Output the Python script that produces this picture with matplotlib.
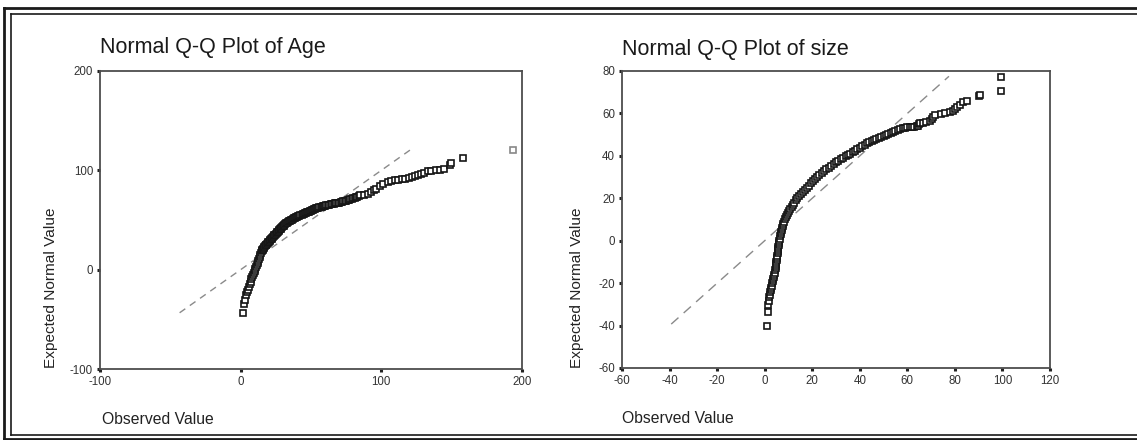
import matplotlib
matplotlib.use("Agg")
import matplotlib.pyplot as plt
from matplotlib.lines import Line2D

W, H = 1137, 440

# ---------------- data: Normal Q-Q plot of Age (observed, expected normal) ----------------
age_low_tail = [(1.5, -44.0), (2.7, -35.0), (3.2, -30.5), (3.9, -26.0), (4.6, -22.5),
                (5.2, -20.0), (5.8, -17.0), (6.3, -14.5), (7.0, -12.0), (7.6, -9.5),
                (8.2, -7.5), (8.8, -5.5), (9.4, -3.5), (9.9, -1.5), (10.5, 0.5),
                (11.0, 2.5), (11.5, 4.5), (12.0, 6.5), (12.5, 8.5), (13.0, 10.5),
                (13.5, 12.5), (14.0, 14.5), (14.5, 16.5)]
age_body = [(15.0, 18.5), (15.3, 19.4), (15.6, 20.3), (16.0, 21.2), (16.4, 22.0),
            (16.9, 22.8), (17.3, 23.6), (17.8, 24.4), (18.2, 25.2), (18.7, 26.0),
            (19.1, 26.8), (19.6, 27.5), (20.0, 28.2), (20.5, 28.9), (21.0, 29.6),
            (21.5, 30.4), (22.0, 31.2), (22.5, 32.0), (23.0, 32.8), (23.5, 33.6),
            (24.0, 34.4), (24.5, 35.2), (25.0, 36.0), (25.5, 36.8), (26.0, 37.6),
            (26.5, 38.3), (27.0, 39.0), (27.5, 39.8), (28.0, 40.5), (28.5, 41.3),
            (29.0, 42.0), (29.5, 42.8), (30.0, 43.5), (30.5, 44.3), (31.0, 45.0),
            (31.6, 45.8), (32.2, 46.5), (32.8, 47.2), (33.5, 47.8), (34.2, 48.6),
            (35.0, 49.3), (35.8, 49.9), (36.5, 50.5), (37.3, 51.0), (38.0, 51.6),
            (38.8, 52.1), (39.5, 52.6), (40.3, 53.1), (41.0, 53.6), (41.8, 54.1),
            (42.5, 54.6), (43.3, 55.1), (44.0, 55.6), (44.8, 56.1), (45.5, 56.6),
            (46.3, 57.1), (47.0, 57.6), (47.8, 58.0), (48.5, 58.5), (49.3, 59.0),
            (50.0, 59.4), (50.8, 59.8), (51.5, 60.3), (52.3, 60.8), (53.0, 61.2),
            (53.8, 61.6), (54.5, 62.0), (55.3, 62.4), (56.0, 62.8), (56.8, 63.2),
            (57.5, 63.5), (58.3, 63.8), (59.0, 64.2), (60.0, 64.5), (61.0, 64.8),
            (62.0, 65.2), (63.0, 65.5), (64.0, 65.8), (65.0, 66.1), (66.0, 66.4),
            (67.0, 66.7), (68.0, 67.0), (69.0, 67.3), (70.0, 67.6), (71.0, 68.0),
            (72.0, 68.3), (73.0, 68.7), (74.0, 69.1), (75.0, 69.5), (76.0, 69.9),
            (77.0, 70.3), (78.0, 70.8), (79.0, 71.3), (80.0, 71.8), (81.0, 72.4),
            (82.0, 73.0), (83.0, 73.6), (84.0, 74.2), (84.8, 74.8)]
age_high_tail = [(87.5, 75.6), (90.4, 76.5), (92.5, 78.0), (94.5, 80.0), (96.3, 81.6),
                 (99.0, 84.0), (101.5, 86.5), (104.6, 88.2), (107.0, 89.0), (109.4, 89.9),
                 (112.0, 90.6), (114.5, 91.2), (116.5, 91.6), (119.5, 92.5), (121.5, 93.3),
                 (123.6, 94.0), (126.0, 95.0), (128.3, 96.0), (130.5, 97.5), (133.0, 99.2),
                 (135.5, 99.6), (139.0, 100.0), (142.0, 100.8), (144.9, 101.7),
                 (148.5, 105.0), (149.6, 107.4), (157.9, 112.4)]
age_outlier = [(193.5, 120.8)]
age_ref_line = [-43.4, 122.0]

# ---------------- data: Normal Q-Q plot of size (observed, expected normal) ----------------
size_low_tail = [(1.0, -40.2), (1.3, -33.6), (1.6, -30.5), (1.8, -28.5), (2.0, -26.5),
                 (2.2, -25.4)]
size_body = [(2.4, -24.4), (2.6, -23.4), (2.8, -22.4), (3.0, -21.2), (3.2, -20.0),
             (3.4, -19.0), (3.6, -18.0), (3.8, -17.0), (4.0, -16.0), (4.2, -15.0),
             (4.4, -14.0), (4.6, -13.0), (4.7, -12.0), (4.8, -11.0), (4.9, -10.0),
             (5.0, -9.0), (5.1, -8.0), (5.3, -7.0), (5.4, -6.0), (5.5, -5.0),
             (5.6, -4.0), (5.8, -3.0), (5.9, -2.0), (6.0, -1.0), (6.2, 0.0),
             (6.3, 1.0), (6.5, 2.0), (6.7, 3.0), (6.9, 4.0), (7.1, 5.0), (7.3, 6.0),
             (7.6, 7.0), (7.9, 8.0), (8.2, 9.0), (8.5, 10.0), (8.9, 11.0), (9.3, 12.0),
             (9.7, 13.0), (10.2, 14.0), (10.7, 15.0), (11.3, 16.0), (11.9, 17.0),
             (12.5, 18.0), (13.1, 19.0), (13.8, 20.0), (14.5, 21.0), (15.2, 22.0),
             (16.0, 23.0), (16.8, 24.0), (17.6, 25.0), (18.5, 26.0), (19.4, 27.0),
             (20.3, 28.0), (21.2, 29.0), (22.1, 30.0), (23.0, 30.9), (24.0, 31.8),
             (25.0, 32.7), (26.0, 33.6), (27.0, 34.5), (28.0, 35.4), (29.0, 36.2),
             (30.0, 37.0), (31.0, 37.8), (32.0, 38.5), (33.0, 39.2), (34.0, 39.8),
             (35.0, 40.4), (36.0, 41.0), (37.0, 41.6), (38.0, 42.3), (39.0, 43.0),
             (40.0, 43.8), (41.0, 44.6), (42.0, 45.3), (43.0, 46.0), (44.0, 46.5),
             (45.0, 47.0), (46.0, 47.5), (47.0, 47.9), (48.0, 48.4), (49.0, 48.8),
             (50.0, 49.3), (51.0, 49.8), (52.0, 50.3), (53.0, 50.8), (54.0, 51.3),
             (55.0, 51.8), (56.0, 52.2), (57.0, 52.6), (58.0, 53.0), (59.0, 53.3),
             (60.0, 53.5), (61.0, 53.6), (62.0, 53.7), (63.0, 53.8), (64.0, 54.0),
             (64.5, 54.3), (65.0, 54.8), (65.5, 55.3)]
size_high_tail = [(66.5, 55.4), (68.0, 55.8), (69.5, 56.3), (70.5, 57.2), (71.0, 58.3),
                  (71.5, 59.2), (74.0, 59.8), (76.0, 60.2), (78.0, 60.5), (79.0, 61.3),
                  (80.0, 62.3), (81.0, 63.2), (82.0, 64.2), (83.5, 65.3), (85.0, 65.8),
                  (90.0, 68.3), (90.5, 68.9), (99.5, 70.5), (99.5, 77.3)]
size_ref_line = [-39.3, 77.5]

age_xticks = [-100, 0, 100, 200]
age_yticks = [-100, 0, 100, 200]
size_xticks = [-60, -40, -20, 0, 20, 40, 60, 80, 100, 120]
size_yticks = [-60, -40, -20, 0, 20, 40, 60, 80]

plt.rcParams['font.family'] = ['Liberation Sans', 'DejaVu Sans']

fig = plt.figure(figsize=(W / 100, H / 100), dpi=100)
fig.patch.set_facecolor('white')


def rect(l, t, r, b):
    return [l / W, 1 - b / H, (r - l) / W, (b - t) / H]


def style_axes(ax, xlim, ylim, xticks, yticks):
    ax.set_xlim(*xlim)
    ax.set_ylim(*ylim)
    ax.set_xticks(xticks)
    ax.set_yticks(yticks)
    ax.set_xticklabels([str(v) for v in xticks])
    ax.set_yticklabels([str(v) for v in yticks])
    for s in ax.spines.values():
        s.set_color('#4d4d4d')
        s.set_linewidth(1.3)
    ax.tick_params(axis='both', direction='out', length=2.0, width=2.2,
                   color='#222222', labelsize=8.3, labelcolor='#333333', pad=3)
    ax.set_facecolor('white')


def xs(pts):
    return [p[0] for p in pts]


def ys(pts):
    return [p[1] for p in pts]


marker_kw = dict(linestyle='none', marker='s', markersize=4.0, markerfacecolor='white',
                 markeredgecolor='#151515', markeredgewidth=1.2)

# ---- left panel ----
ax1 = fig.add_axes(rect(100, 71, 522, 369))
style_axes(ax1, (-100, 200), (-100, 200), age_xticks, age_yticks)
ax1.plot(age_ref_line, age_ref_line, color='#8a8a8a', lw=1.0, dashes=(5, 4))
for seg in (age_low_tail, age_body, age_high_tail):
    ax1.plot(xs(seg), ys(seg), **marker_kw)
ax1.plot(xs(age_outlier), ys(age_outlier), linestyle='none', marker='s', markersize=4.0,
         markerfacecolor='white', markeredgecolor='#888888', markeredgewidth=1.2)

# ---- right panel ----
ax2 = fig.add_axes(rect(622, 71, 1050, 368))
style_axes(ax2, (-60, 120), (-60, 80), size_xticks, size_yticks)
ax2.plot(size_ref_line, size_ref_line, color='#8a8a8a', lw=1.0, dashes=(7, 5))
for seg in (size_low_tail, size_body, size_high_tail):
    ax2.plot(xs(seg), ys(seg), **marker_kw)

# ---- texts ----
fig.text(100 / W, 1 - 53 / H, 'Normal Q-Q Plot of Age', fontsize=15.5, color='#1a1a1a',
         ha='left', va='baseline')
fig.text(622 / W, 1 - 55 / H, 'Normal Q-Q Plot of size', fontsize=15.5, color='#1a1a1a',
         ha='left', va='baseline')
fig.text(102 / W, 1 - 424 / H, 'Observed Value', fontsize=11.3, color='#222222',
         ha='left', va='baseline')
fig.text(622 / W, 1 - 423 / H, 'Observed Value', fontsize=11.3, color='#222222',
         ha='left', va='baseline')
fig.text(51 / W, 1 - 368 / H, 'Expected Normal Value', fontsize=11.1, color='#222222',
         rotation=90, ha='center', va='bottom')
fig.text(577 / W, 1 - 368 / H, 'Expected Normal Value', fontsize=11.1, color='#222222',
         rotation=90, ha='center', va='bottom')

# ---- outer double frame ----
def fline(x0, y0, x1, y1, lw, color='#1a1a1a'):
    fig.add_artist(Line2D([x0 / W, x1 / W], [1 - y0 / H, 1 - y1 / H], lw=lw,
                          color=color, transform=fig.transFigure))

fline(4, 8, W, 8, 2.0)
fline(11, 14, W, 14, 1.2)
fline(4, 8, 4, 439, 2.0)
fline(11, 14, 11, 435, 1.2)
fline(11, 435, W, 435, 1.2)
fline(4, 439, W, 439, 2.0)

fig.savefig('out.png', dpi=100, facecolor='white')
